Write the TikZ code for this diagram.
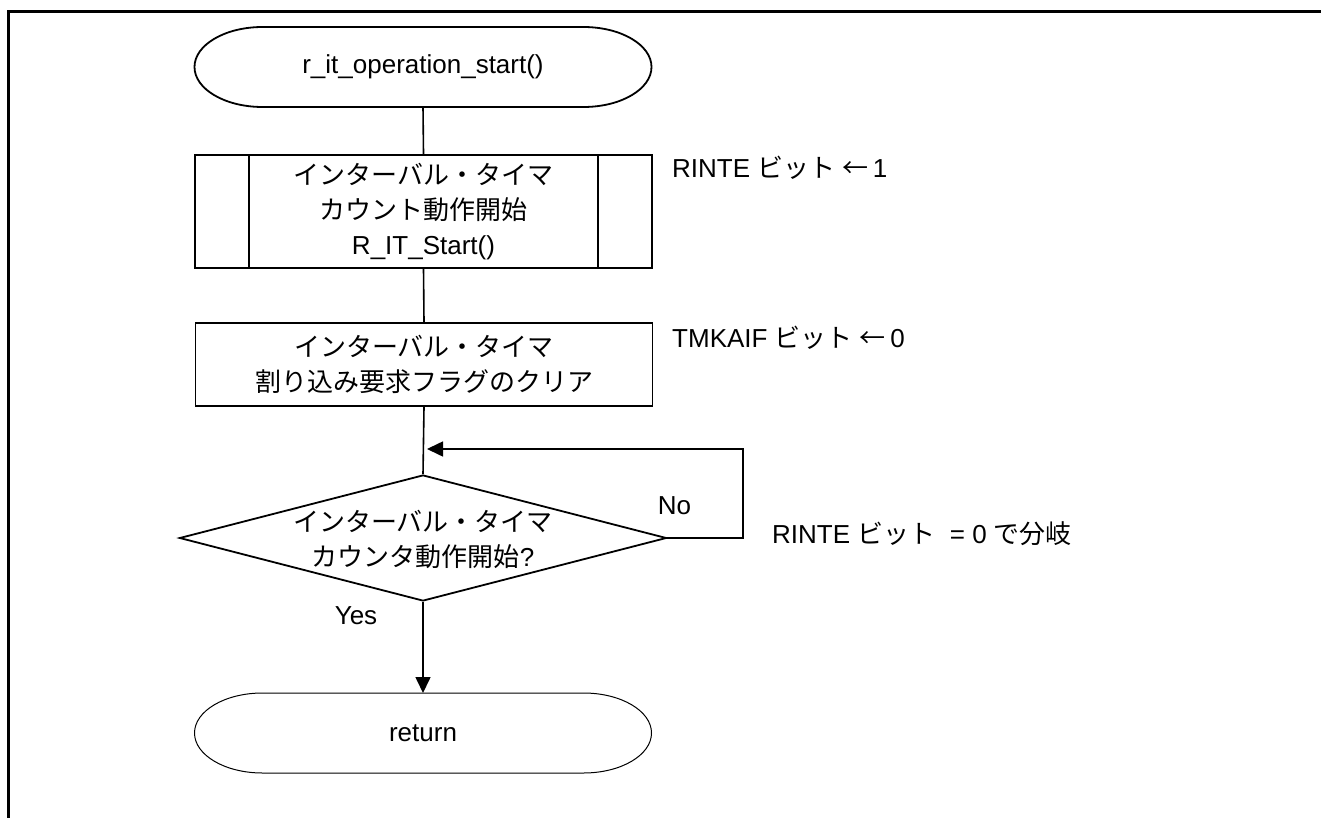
\documentclass[tikz,border=0pt]{standalone}
\usepackage{fontspec}
\setmainfont{Liberation Sans}
\newfontfamily\jp{Noto Sans CJK JP}
\usetikzlibrary{arrows.meta,shapes.geometric}
\newcommand\termoutline[2]{%
  \draw[#2] ([xshift=68pt]#1.north west) -- ([xshift=-68pt]#1.north east)
    arc[start angle=90,end angle=-90,x radius=68pt,y radius=40pt]
    -- ([xshift=68pt]#1.south west)
    arc[start angle=270,end angle=90,x radius=68pt,y radius=40pt] -- cycle;}
\begin{document}
\begin{tikzpicture}[x=1pt,y=-1pt,
  every node/.style={font=\fontsize{26}{35}\selectfont, inner sep=0pt},
  box/.style={draw, rectangle, line width=1.8pt, minimum width=457pt, align=center},
  term/.style={rectangle, outer sep=0pt, minimum width=457pt, minimum height=80pt, align=center},
  dec/.style={diamond, draw, line width=1.8pt, minimum width=487pt, minimum height=126pt},
  conn/.style={line width=1.6pt},
  arr/.style={conn, -{Triangle[length=16pt,width=15pt]}},
  note/.style={anchor=base west}
]
\useasboundingbox (0,0) rectangle (1321,818);
\draw[line width=3pt] (8,830) -- (8,11.5) -- (1330,11.5);

\node[term] (start) at (423,67) {r\_it\_operation\_start()};
\termoutline{start}{line width=1.8pt}

\node[box, minimum height=113pt] (sub) at (423.5,211.5)
  {{\jp インターバル・タイマ}\\{\jp カウント動作開始}\\R\_IT\_Start()};
\draw[line width=1.8pt] ([xshift=55pt]sub.north west) -- ([xshift=55pt]sub.south west);
\draw[line width=1.8pt] ([xshift=-55pt]sub.north east) -- ([xshift=-55pt]sub.south east);

\node[box, minimum height=83pt] (clr) at (424,364.5)
  {{\jp インターバル・タイマ}\\{\jp 割り込み要求フラグのクリア}};

\node[dec] (chk) at (423,538) {};
\node[align=center] (chktxt) at (423,539) {{\jp インターバル・タイマ}\\{\jp カウンタ動作開始}?};

\node[term] (ret) at (423,733) {return};
\termoutline{ret}{line width=1pt}

\draw[conn] (start.south) -- (sub.north);
\draw[conn] (sub.south) -- (clr.north);
\draw[conn] (clr.south) -- (chk.north);
\draw[arr] (chk.south) -- (ret.north);
\coordinate (lpA) at (743,538);
\coordinate (lpB) at (743,449);
\coordinate (lpC) at (427,449);
\draw[arr] (chk.east) -- (lpA) -- (lpB) -- (lpC);

\node (yes) at (356,616) {Yes};
\node (no) at (674.5,506) {No};

\node[note] (n1) at (672,178) {RINTE {\jp ビット} {\jp ←}\,1};
\node[note] (n2) at (672,347) {TMKAIF {\jp ビット} {\jp ←}\,0};
\node[note] (n3) at (772,543) {RINTE {\jp ビット}\ \ = 0 {\jp で分岐}};
\end{tikzpicture}
\end{document}
